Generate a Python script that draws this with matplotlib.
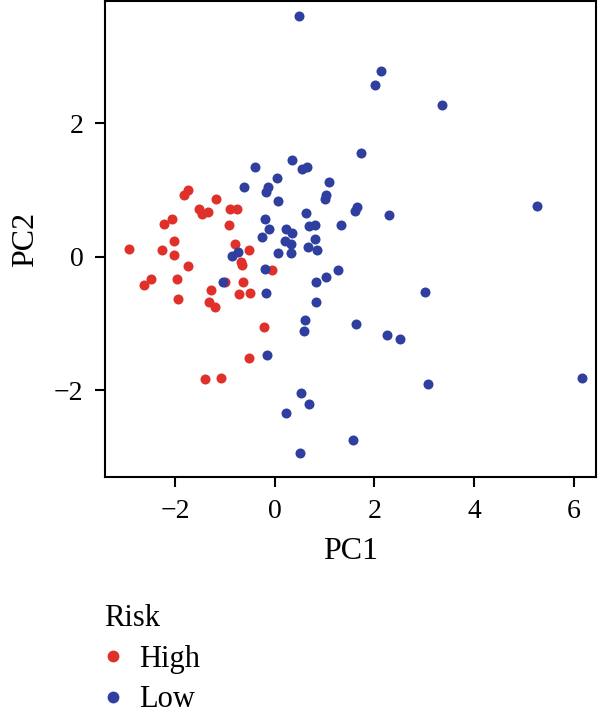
import matplotlib
matplotlib.use("Agg")
import matplotlib.pyplot as plt
from matplotlib.lines import Line2D

# PCA scores
high_pc1 = [-1.74, -1.82, -1.19, -1.53, -1.47, -1.35, -0.90, -0.75, -2.07, -2.22,
            -0.91, -2.03, -2.92, -2.26, -0.80, -0.52, -2.03, -0.68, -0.65, -1.74,
            -2.48, -2.62, -1.96, -1.00, -0.64, -1.28, -0.72, -0.50, -1.95, -1.32,
            -1.21, -0.52, -1.08, -1.41, -0.05, -0.22]
high_pc2 = [1.00, 0.92, 0.86, 0.71, 0.64, 0.67, 0.71, 0.71, 0.56, 0.49,
            0.48, 0.24, 0.11, 0.10, 0.19, 0.10, 0.02, -0.08, -0.13, -0.14,
            -0.34, -0.42, -0.34, -0.38, -0.38, -0.50, -0.56, -0.55, -0.64, -0.68,
            -0.75, -1.52, -1.81, -1.83, -0.20, -1.06]

low_pc1 = [0.48, 2.14, 2.02, 3.35, 1.74, 0.35, -0.39, 0.54, 0.64, 0.05,
           1.09, -0.61, -0.14, -0.18, 1.02, 1.00, 0.07, 1.65, 1.61, 5.26,
           2.29, 0.62, -0.19, 1.33, -0.12, 0.69, 0.80, 0.22, 0.34, -0.26,
           0.80, 0.20, 0.32, 0.66, 0.84, 0.07, 0.32, -0.74, -0.85, -0.20,
           1.27, 1.02, 0.82, -1.05, -0.17, 0.82, 0.61, 0.59, 1.63, -0.15,
           3.01, 2.26, 2.51, 3.07, 6.16, 0.52, 0.68, 0.22, 1.57, 0.51]
low_pc2 = [3.60, 2.78, 2.57, 2.27, 1.55, 1.45, 1.35, 1.32, 1.35, 1.18,
           1.12, 1.04, 1.05, 0.97, 0.93, 0.87, 0.84, 0.75, 0.69, 0.76,
           0.62, 0.65, 0.56, 0.48, 0.41, 0.46, 0.47, 0.41, 0.36, 0.29,
           0.27, 0.24, 0.19, 0.14, 0.10, 0.06, 0.05, 0.07, 0.01, -0.19,
           -0.20, -0.30, -0.38, -0.38, -0.55, -0.68, -0.95, -1.12, -1.01, -1.48,
           -0.53, -1.17, -1.24, -1.90, -1.82, -2.04, -2.21, -2.34, -2.74, -2.94]

groups = ["High", "Low"]
colors = {"High": "#E0302A", "Low": "#2E3F9F"}

plt.rcParams["font.family"] = ["Liberation Serif", "DejaVu Serif"]

fig = plt.figure(figsize=(6, 7.24), dpi=100)
ax = fig.add_axes([105/600, 1 - 477/724, 491/600, 476/724])

ax.scatter(high_pc1, high_pc2, s=52, color=colors["High"], linewidths=0, zorder=2)
ax.scatter(low_pc1, low_pc2, s=52, color=colors["Low"], linewidths=0, zorder=3)

ax.set_xlim(-3.41, 6.45)
ax.set_ylim(-3.30, 3.83)
ax.set_xticks([-2, 0, 2, 4, 6])
ax.set_yticks([-2, 0, 2])
ax.set_xticklabels(["\u22122", "0", "2", "4", "6"])
ax.set_yticklabels(["\u22122", "0", "2"])

for sp in ax.spines.values():
    sp.set_linewidth(1.5)
ax.tick_params(direction="out", length=7.5, width=1.5, labelsize=20, pad=8)

ax.set_xlabel("PC1", fontsize=23, labelpad=10)
ax.set_ylabel("PC2", fontsize=23, labelpad=10)

handles = [Line2D([], [], marker="o", linestyle="", markersize=8.5,
                  markerfacecolor=colors[g], markeredgewidth=0) for g in groups]
leg = fig.legend(handles, groups, title="Risk", loc="upper left",
                 bbox_to_anchor=(104/600, 1 - 604/724), frameon=False,
                 fontsize=22, title_fontsize=22, alignment="left",
                 handlelength=0.6, handletextpad=0.55, labelspacing=0.38,
                 borderpad=0, borderaxespad=0)

fig.savefig("out.png", dpi=100)
